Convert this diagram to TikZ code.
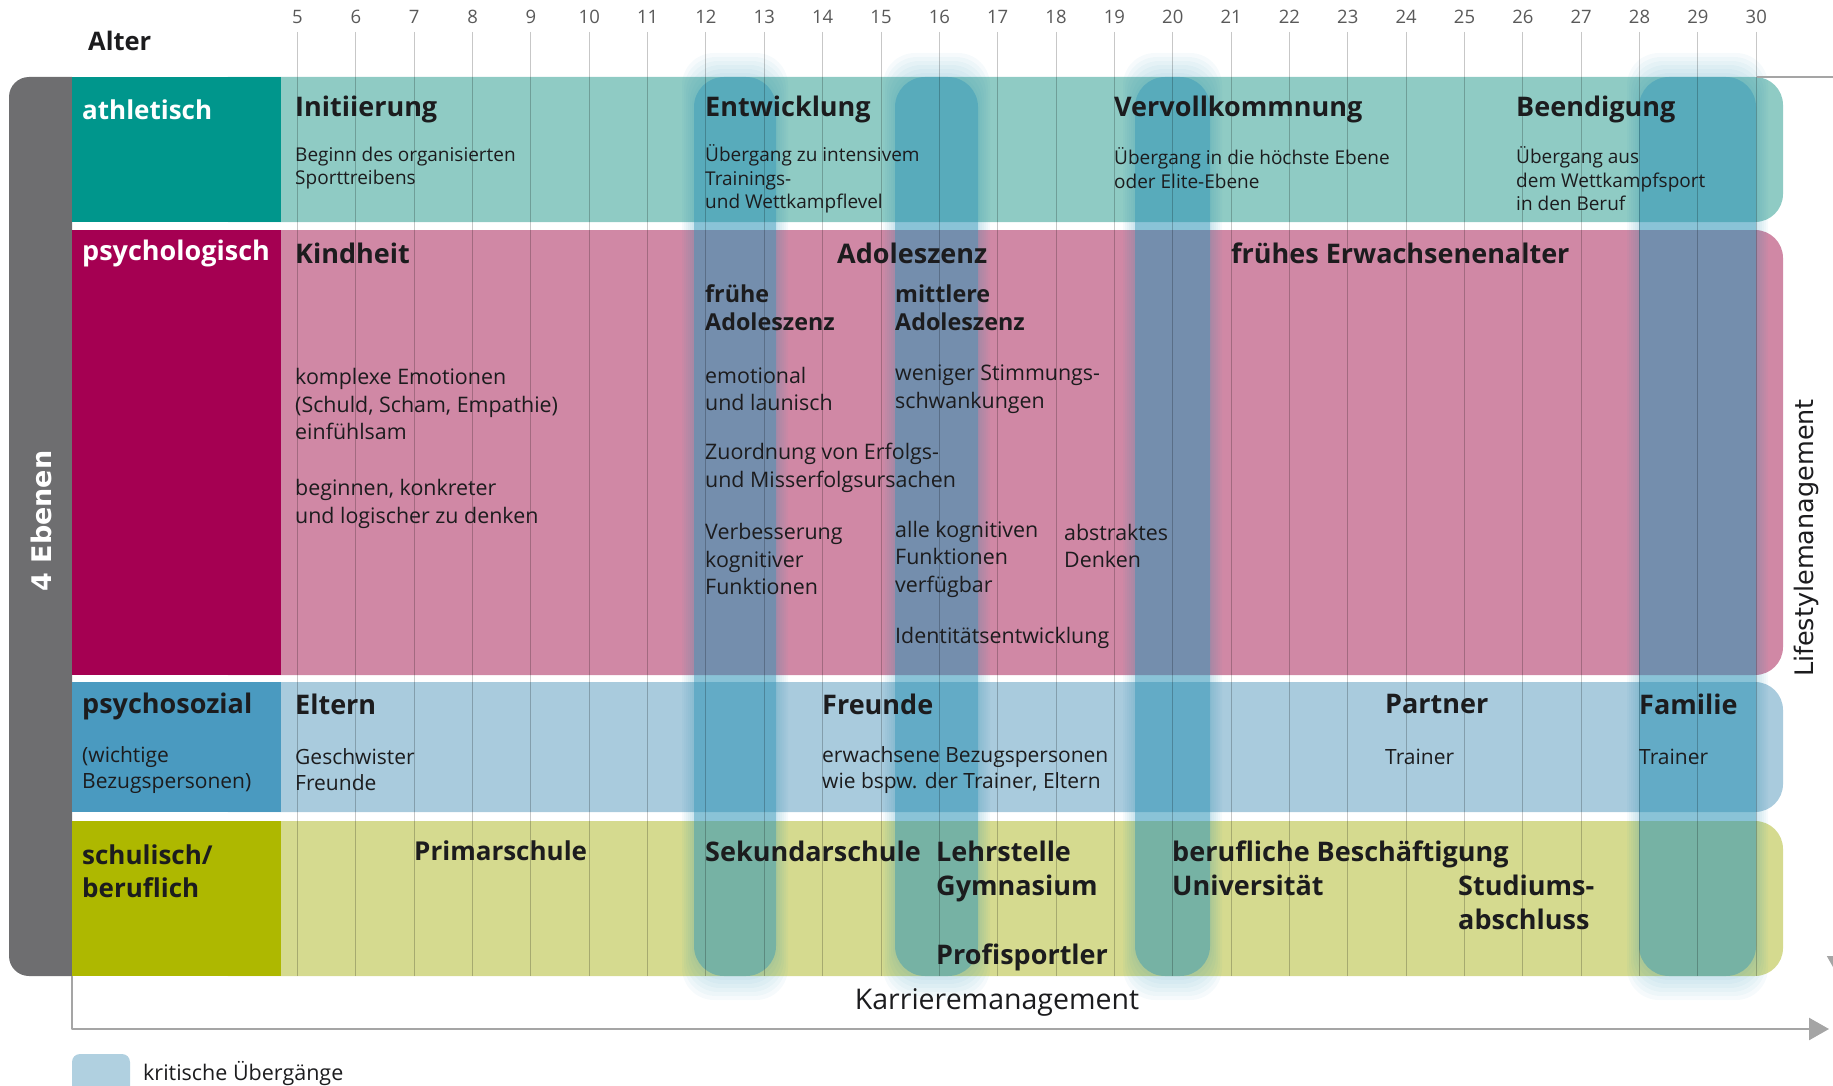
\documentclass[tikz,border=0pt]{standalone}
\usepackage{fontspec}
\setmainfont{Open Sans}
\newfontfamily\vfont{DejaVu Sans}
\usetikzlibrary{positioning,arrows.meta}
\definecolor{athlhead}{RGB}{0,150,140}
\definecolor{athlband}{RGB}{143,203,196}
\definecolor{psyhead}{RGB}{165,0,82}
\definecolor{psyband}{RGB}{208,136,165}
\definecolor{sozhead}{RGB}{74,154,192}
\definecolor{sozband}{RGB}{169,203,221}
\definecolor{schulhead}{RGB}{174,184,0}
\definecolor{schulband}{RGB}{213,218,143}
\definecolor{crit}{RGB}{50,150,185}
\definecolor{legendblue}{RGB}{176,208,224}
\definecolor{ebenengray}{RGB}{110,110,112}
\definecolor{axisgray}{RGB}{165,165,165}
\definecolor{ink}{RGB}{28,28,30}
\tikzset{
  txt/.style={inner sep=0pt,anchor=west,text=ink,align=left},
  hd/.style={txt,font=\fontsize{27}{33}\selectfont\bfseries},
  sub/.style={txt,font=\fontsize{23.3}{28}\selectfont\bfseries},
  ath/.style={txt,font=\fontsize{19}{23.5}\selectfont},
  psy/.style={txt,font=\fontsize{21.4}{27.5}\selectfont},
  soz/.style={txt,font=\fontsize{21}{26}\selectfont},
  lvl/.style={txt,font=\fontsize{26}{33}\selectfont\bfseries},
  agelbl/.style={inner sep=0pt,text=black!65,font=\fontsize{18.5}{20}\selectfont},
  ageline/.style={black,opacity=0.22,line width=1pt},
  critbar/.style={fill=crit,fill opacity=0.44,rounded corners=30pt},
  axisline/.style={draw=axisgray,line width=2.5pt,-{Triangle[length=20pt,width=22pt]}},
}
\begin{document}
\begin{tikzpicture}[x=1pt,y=-1pt,line join=round]
  \useasboundingbox (0,0) rectangle (1833,1086);
  % gray side bar, only its left corners round
  \begin{scope}
    \clip (0,0) rectangle (72,1086);
    \fill[ebenengray,rounded corners=20pt] (9,77) rectangle (120,976);
  \end{scope}
  % bands: content first, header on top
  \fill[athlband,rounded corners=28pt] (200,77) rectangle (1783,222);
  \fill[psyband,rounded corners=28pt] (200,230) rectangle (1783,675);
  \fill[sozband,rounded corners=28pt] (200,682) rectangle (1783,812);
  \fill[schulband,rounded corners=28pt] (200,821) rectangle (1783,976);
  \fill[athlhead] (72,77) rectangle (281,222);
  \fill[psyhead] (72,230) rectangle (281,675);
  \fill[sozhead] (72,682) rectangle (281,812);
  \fill[schulhead] (72,821) rectangle (281,976);
  % critical transitions with soft halo
  \foreach \l/\r in {694/776,895/978,1135/1210,1639/1756}{
    \foreach \g in {1,...,6}
      \fill[crit,fill opacity=0.045,rounded corners=32pt] ({\l-2*\g},{77-4*\g}) rectangle ({\r+2*\g},{976+4*\g});
    \fill[critbar] (\l,77) rectangle (\r,976);
  }
  % age axis
  \node[txt,font=\fontsize{25.5}{30}\selectfont\bfseries] (alter) at (88,41) {Alter};
  \foreach \a in {5,...,30}{
    \node[agelbl] (age\a) at ({297.5+(\a-5)*58.35},17) {\a};
    \draw[ageline] ({297.5+(\a-5)*58.35},32) -- ({297.5+(\a-5)*58.35},976);
  }
  \node[rotate=90,text=white,font=\vfont\fontsize{27}{30}\selectfont\bfseries] (ebenen) at (41,521) {4 Ebenen};
  % athletisch
  \node[lvl,text=white] (athl) at (82,110) {athletisch};
  \node[hd] (initi) at (295,109) {Initiierung};
  \node[ath] (initinote) at (295,168) {Beginn des organisierten\\Sporttreibens};
  \node[hd] (entw) at (705,109) {Entwicklung};
  \node[ath] (entwnote) at (705,179) {Übergang zu intensivem\\Trainings-\\und Wettkampflevel};
  \node[hd] (vervoll) at (1114,109) {Vervollkommnung};
  \node[ath] (vervollnote) at (1114,168) {Übergang in die höchste Ebene\\oder Elite-Ebene};
  \node[hd] (beend) at (1516,109) {Beendigung};
  \node[ath] (beendnote) at (1516,179) {Übergang aus\\dem Wettkampfsport\\in den Beruf};
  % psychologisch
  \node[lvl,text=white,font=\fontsize{27}{33}\selectfont\bfseries] (psych) at (82,253) {psychologisch};
  \node[hd] (kind) at (295,253) {Kindheit};
  \node[hd] (adol) at (837,253) {Adoleszenz};
  \node[hd] (erw) at (1231,253) {frühes Erwachsenenalter};
  \node[sub] (fruehe) at (705,308) {frühe\\Adoleszenz};
  \node[sub] (mittl) at (895,308) {mittlere\\Adoleszenz};
  \node[psy] (emokind) at (295,404) {komplexe Emotionen\\(Schuld, Scham, Empathie)\\einfühlsam};
  \node[psy] (denkkind) at (295,504) {beginnen, konkreter\\und logischer zu denken};
  \node[psy] (emofr) at (705,389) {emotional\\und launisch};
  \node[psy] (emomi) at (895,389) {weniger Stimmungs-\\schwankungen};
  \node[psy] (zuord) at (705,468) {Zuordnung von Erfolgs-\\und Misserfolgsursachen};
  \node[psy] (kogfr) at (705,559) {Verbesserung\\kognitiver\\Funktionen};
  \node[psy] (kogmi) at (895,559) {alle kognitiven\\Funktionen\\verfügbar};
  \node[psy] (abstr) at (1064,546) {abstraktes\\Denken};
  \node[psy] (ident) at (895,638) {Identitätsentwicklung};
  % psychosozial
  \node[lvl,font=\fontsize{27}{33}\selectfont\bfseries] (soz) at (82,706) {psychosozial};
  \node[soz] (sozbez) at (82,770) {(wichtige\\Bezugspersonen)};
  \node[hd] (eltern) at (295,704) {Eltern};
  \node[soz] (elternnote) at (295,770) {Geschwister\\Freunde};
  \node[hd] (freunde) at (822,704) {Freunde};
  \node[soz] (freundenote) at (822,770) {erwachsene Bezugspersonen\\wie bspw. der Trainer, Eltern};
  \node[hd] (partner) at (1385,704) {Partner};
  \node[soz] (partnernote) at (1385,757) {Trainer};
  \node[hd] (familie) at (1639,704) {Familie};
  \node[soz] (familienote) at (1639,757) {Trainer};
  % schulisch/beruflich
  \node[lvl,font=\fontsize{26}{33.5}\selectfont\bfseries] (schul) at (82,871) {schulisch/\\beruflich};
  \node[hd,font=\fontsize{26}{33}\selectfont\bfseries] (primar) at (414,851) {Primarschule};
  \node[hd] (sek) at (705,851) {Sekundarschule};
  \node[hd,font=\fontsize{27}{34}\selectfont\bfseries] (lehr) at (936,871) {Lehrstelle\\Gymnasium};
  \node[hd] (profi) at (936,957) {Profisportler};
  \node[hd,font=\fontsize{27}{34}\selectfont\bfseries] (beruf) at (1172,868) {berufliche Beschäftigung\\Universität};
  \node[hd,font=\fontsize{27}{34}\selectfont\bfseries] (studium) at (1458,902) {Studiums-\\abschluss};
  % management axes
  \coordinate (karrstart) at (72,976);
  \coordinate (karrend) at (1829,1029);
  \draw[axisline] (karrstart) |- (karrend);
  \node[txt,anchor=center,font=\fontsize{28.5}{32}\selectfont] (karr) at (997,1002) {Karrieremanagement};
  \coordinate (lifestart) at (1757,77);
  \coordinate (lifeend) at (1838,976);
  \draw[draw=axisgray,line width=1.8pt,-{Triangle[length=20pt,width=22pt]}] (lifestart) -| (lifeend);
  \node[rotate=90,text=ink,font=\vfont\fontsize{25.5}{28}\selectfont] (life) at (1806,538) {Lifestylemanagement};
  % legend
  \fill[legendblue,rounded corners=8pt] (72,1054) rectangle (130,1110);
  \node[txt,font=\fontsize{21.5}{24}\selectfont] (legend) at (143,1073) {kritische Übergänge};
\end{tikzpicture}
\end{document}
